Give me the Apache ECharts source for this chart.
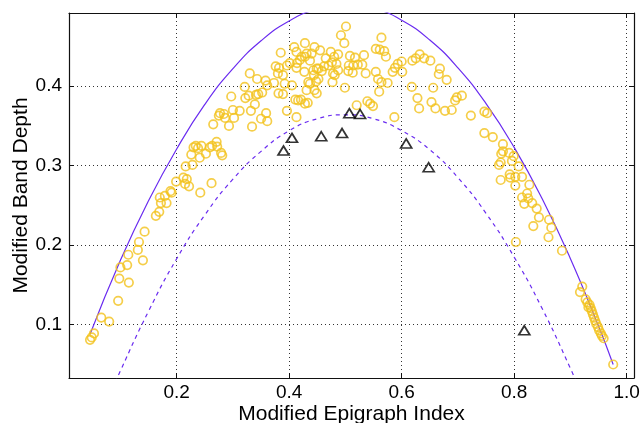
<!DOCTYPE html>
<html><head><meta charset="utf-8">
<script src="https://cdn.jsdelivr.net/npm/echarts@6/dist/echarts.min.js"></script>
<style>html,body{margin:0;padding:0;background:#fff}#c{width:641px;height:423px}</style>
</head><body><div id="c"></div>
<script>
const xTicks = [0.2, 0.4, 0.6, 0.8, 1.0];
const yTicks = [0.1, 0.2, 0.3, 0.4];
const xRange = [0.0086, 1.013];
const yRange = [0.033, 0.492];

const depthCircles = [
[0.046,0.081],[0.049,0.084],[0.053,0.089],[0.066,0.109],[0.080,0.104],[0.096,0.130],[0.098,0.158],[0.115,0.153],
[0.100,0.172],[0.112,0.175],[0.114,0.188],[0.131,0.194],[0.133,0.204],[0.140,0.181],[0.143,0.217],[0.163,0.237],
[0.169,0.242],[0.170,0.260],[0.179,0.262],[0.172,0.253],[0.182,0.253],[0.189,0.268],[0.191,0.266],[0.199,0.280],
[0.212,0.285],[0.215,0.277],[0.222,0.274],[0.218,0.283],[0.242,0.266],[0.262,0.278],
[0.216,0.299],[0.228,0.301],[0.226,0.314],[0.230,0.323],[0.234,0.325],[0.238,0.322],[0.244,0.325],[0.241,0.310],
[0.252,0.315],[0.259,0.323],[0.263,0.325],[0.271,0.330],[0.272,0.324],[0.279,0.316],[0.281,0.313],[0.265,0.352],
[0.275,0.363],[0.277,0.366],[0.284,0.365],[0.286,0.360],[0.293,0.350],[0.302,0.360],[0.297,0.387],[0.300,0.370],
[0.312,0.369],[0.321,0.399],[0.322,0.385],[0.328,0.388],[0.334,0.349],[0.332,0.369],[0.339,0.377],[0.330,0.416],
[0.343,0.409],[0.358,0.407],[0.361,0.401],[0.345,0.390],[0.352,0.392],[0.341,0.389],[0.350,0.359],[0.359,0.366],
[0.361,0.356],[0.373,0.404],[0.376,0.425],[0.382,0.423],[0.380,0.416],[0.381,0.391],[0.389,0.390],[0.385,0.442],
[0.389,0.414],[0.392,0.403],[0.396,0.369],[0.396,0.426],[0.401,0.429],[0.409,0.449],[0.414,0.429],[0.419,0.433],
[0.413,0.423],[0.405,0.401],[0.411,0.383],[0.421,0.383],[0.413,0.361],[0.428,0.454],[0.428,0.437],[0.427,0.418],
[0.434,0.405],[0.433,0.379],[0.445,0.449],[0.448,0.406],[0.445,0.395],[0.449,0.422],[0.431,0.441],[0.440,0.441],
[0.437,0.432],[0.443,0.420],[0.452,0.409],[0.437,0.403],[0.431,0.395],[0.416,0.382],[0.428,0.378],[0.422,0.437],
[0.413,0.443],
[0.501,0.475],[0.492,0.464],[0.498,0.454],[0.564,0.461],[0.455,0.445],[0.465,0.435],[0.474,0.443],[0.480,0.437],
[0.487,0.440],[0.476,0.430],[0.484,0.428],[0.452,0.422],[0.462,0.425],[0.470,0.426],[0.458,0.419],[0.444,0.414],
[0.478,0.416],[0.481,0.414],[0.487,0.420],[0.477,0.405],[0.508,0.438],[0.517,0.436],[0.533,0.439],[0.506,0.426],
[0.514,0.426],[0.522,0.427],[0.530,0.427],[0.505,0.419],[0.513,0.417],[0.536,0.416],[0.554,0.447],[0.561,0.446],
[0.569,0.444],[0.572,0.437],[0.554,0.418],[0.558,0.409],[0.564,0.405],[0.575,0.404],[0.560,0.393],[0.499,0.398],
[0.584,0.418],[0.588,0.423],[0.593,0.428],[0.600,0.431],[0.601,0.418],[0.618,0.399],[0.619,0.432],[0.625,0.435],
[0.632,0.440],[0.640,0.435],[0.651,0.432],[0.668,0.422],[0.666,0.415],[0.680,0.408],[0.656,0.398],[0.628,0.385],
[0.631,0.372],[0.653,0.380],[0.660,0.372],[0.689,0.370],[0.677,0.369],[0.695,0.382],[0.698,0.386],[0.707,0.388],
[0.723,0.363],[0.587,0.361],[0.520,0.376],[0.539,0.381],[0.544,0.378],[0.549,0.375],[0.449,0.391],
[0.747,0.368],[0.752,0.366],[0.747,0.341],[0.762,0.336],[0.780,0.327],[0.780,0.318],[0.777,0.315],[0.791,0.316],
[0.799,0.312],[0.796,0.306],[0.776,0.304],[0.773,0.301],[0.808,0.299],[0.776,0.282],[0.792,0.289],[0.793,0.285],
[0.802,0.286],[0.814,0.286],[0.802,0.275],[0.827,0.276],[0.823,0.265],[0.825,0.259],[0.814,0.260],[0.818,0.252],
[0.832,0.253],[0.840,0.246],[0.844,0.235],[0.834,0.224],[0.862,0.232],[0.866,0.222],[0.861,0.210],[0.803,0.204],
[0.885,0.193],[0.921,0.148],[0.917,0.141],[0.927,0.132],[0.930,0.128],[0.932,0.122],[0.936,0.121],[0.934,0.125],
[0.938,0.117],[0.940,0.113],[0.942,0.109],[0.944,0.105],[0.946,0.101],[0.949,0.097],[0.951,0.093],[0.954,0.089],
[0.956,0.086],[0.959,0.083],[0.976,0.050]
];

const outlierTriangles = [
[0.390,0.319],[0.405,0.335],[0.457,0.337],[0.494,0.341],[0.507,0.366],[0.526,0.365],[0.608,0.328],[0.648,0.298],[0.818,0.093]
];

const upperX = [0.046,0.10,0.15,0.20,0.25,0.30,0.35,0.40,0.45,0.50,0.55,0.60,0.65,0.70,0.75,0.80,0.85,0.90,0.95,0.976];
const upperY = [0.088,0.181,0.256,0.321,0.377,0.422,0.457,0.482,0.497,0.503,0.498,0.483,0.458,0.423,0.378,0.323,0.258,0.183,0.098,0.050];
const lowerX = [0.08,0.10,0.15,0.20,0.25,0.30,0.35,0.40,0.45,0.50,0.55,0.60,0.65,0.70,0.75,0.80,0.85,0.90,0.92];
const lowerY = [0.009,0.042,0.117,0.183,0.238,0.283,0.318,0.344,0.359,0.364,0.359,0.344,0.320,0.285,0.240,0.185,0.120,0.045,0.012];

const curveColor = '#6a2cf0';
const font = 'Liberation Sans, Arial, Helvetica, sans-serif';

function zip(a, b) { return a.map((v, i) => [v, b[i]]); }

const chart = echarts.init(document.getElementById('c'), null, {renderer: 'canvas'});

const frameLine = {show: true, lineStyle: {color: '#111', width: 1.2}};
const gridLine = {show: true, lineStyle: {color: '#333', width: 1, type: [1, 3]}};

chart.setOption({
  animation: false,
  backgroundColor: '#fff',
  grid: {left: 69, right: 7, top: 13, bottom: 45, containLabel: false, outerBoundsMode: 'none'},
  xAxis: [{
    type: 'value', position: 'bottom', min: xRange[0], max: xRange[1],
    axisLine: frameLine,
    axisTick: {show: true, inside: true, length: 5, customValues: xTicks, lineStyle: {color: '#111'}},
    axisLabel: {customValues: xTicks, color: '#000', fontSize: 19, fontFamily: font, margin: 5,
      formatter: v => v.toFixed(1)},
    splitLine: gridLine,
    name: 'Modified Epigraph Index', nameLocation: 'middle', nameGap: 26, nameMoveOverlap: false,
    nameTextStyle: {color: '#000', fontSize: 21, fontFamily: font}
  }, {
    type: 'value', position: 'top', min: xRange[0], max: xRange[1],
    axisLine: frameLine,
    axisTick: {show: true, inside: true, length: 5, customValues: xTicks, lineStyle: {color: '#111'}},
    axisLabel: {show: false}, splitLine: {show: false}
  }],
  yAxis: [{
    type: 'value', position: 'left', min: yRange[0], max: yRange[1],
    axisLine: frameLine,
    axisTick: {show: true, inside: true, length: 5, customValues: yTicks, lineStyle: {color: '#111'}},
    axisLabel: {customValues: yTicks, color: '#000', fontSize: 19, fontFamily: font, margin: 7,
      formatter: v => v.toFixed(1)},
    splitLine: gridLine,
    name: 'Modified Band Depth', nameLocation: 'middle', nameGap: 37, nameRotate: 90, nameMoveOverlap: false,
    nameTextStyle: {color: '#000', fontSize: 21, fontFamily: font}
  }, {
    type: 'value', position: 'right', min: yRange[0], max: yRange[1],
    axisLine: frameLine,
    axisTick: {show: true, inside: true, length: 5, customValues: yTicks, lineStyle: {color: '#111'}},
    axisLabel: {show: false}, splitLine: {show: false}
  }],
  series: [
    {
      type: 'line', data: zip(upperX, upperY), smooth: true, symbol: 'none', clip: true,
      lineStyle: {color: curveColor, width: 1.2}, z: 3
    },
    {
      type: 'line', data: zip(lowerX, lowerY), smooth: true, symbol: 'none', clip: true,
      lineStyle: {color: curveColor, width: 1.2, type: [4, 4]}, z: 3
    },
    {
      type: 'scatter', data: depthCircles, symbol: 'circle', symbolSize: 8.5, clip: true,
      itemStyle: {color: 'rgba(0,0,0,0)', borderColor: '#f3c21c', borderWidth: 1.7}, z: 4
    },
    {
      type: 'scatter', data: outlierTriangles, symbol: 'triangle', symbolSize: [11, 9], clip: true,
      itemStyle: {color: 'rgba(0,0,0,0)', borderColor: '#000', borderWidth: 1.7}, z: 5
    }
  ]
});
</script>
</body></html>
